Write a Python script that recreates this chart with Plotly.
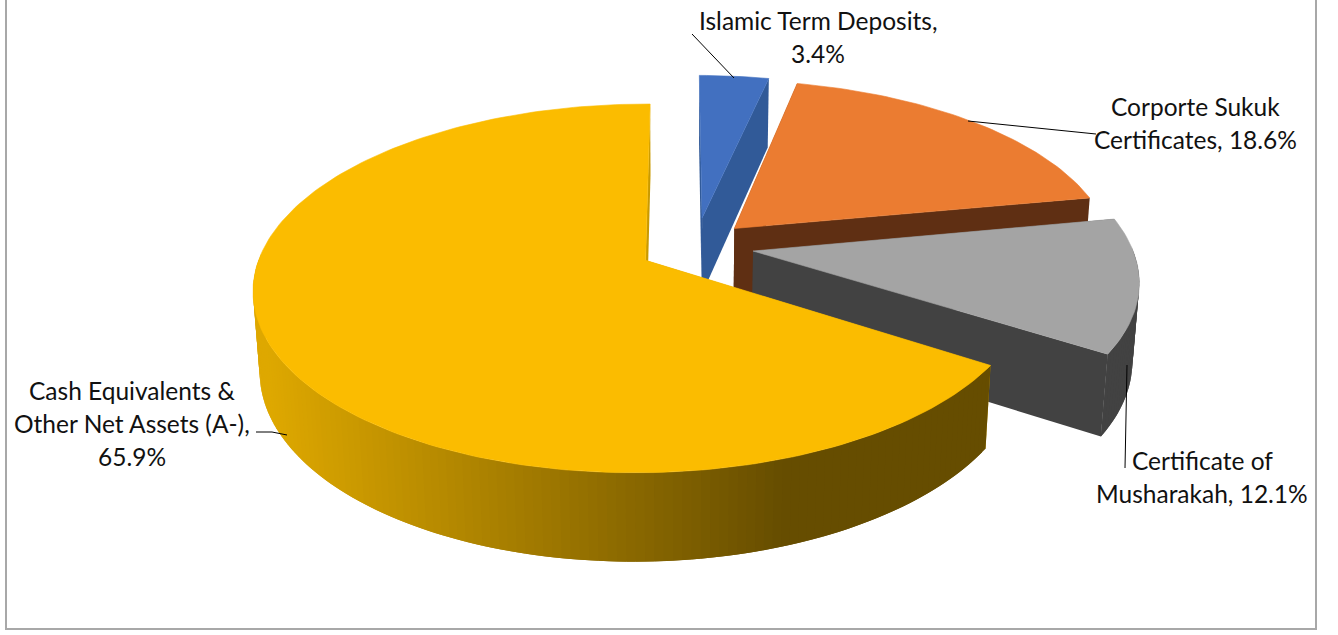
import math
import plotly.graph_objects as go

# Portfolio allocation, in percent, clockwise from twelve o'clock
categories = ["Islamic Term Deposits", "Corporte Sukuk Certificates",
              "Certificate of Musharakah", "Cash Equivalents & Other Net Assets (A-)"]
values = [3.4, 18.6, 12.1, 65.9]

top_colors = ["#4270c0", "#eb7c31", "#a4a4a4", "#fbbc00"]
side_colors = ["#315a98", "#5f2f13", "#424242", "#c99a00"]

# How far each slice is pulled out on the pie's plane, and its radii on that plane
explode_u = [0.059, 0.144, 0.190, -0.0885]
explode_v = [0.152, 0.090, -0.040, -0.092]
radius_u = [1.0, 1.0, 1.0, 0.985]
radius_v = [0.975, 1.0, 1.0, 1.0]

# Perspective camera for the tilted disc
CX, CY = 680.0, 244.0
SCALE_U, SCALE_V, DEPTH = 383.0, 175.0, 79.0
PERSP_V, PERSP_U, PERSP_Z = 0.15, 0.01, 0.015


def project(u, v, z):
    w = 1 + PERSP_V * v + PERSP_U * u + PERSP_Z * z
    return CX + SCALE_U * u / w, CY - (SCALE_V * v - DEPTH * z) / w


def polygon(points, color, stroke=0.0):
    xs = [p[0] for p in points] + [points[0][0]]
    ys = [p[1] for p in points] + [points[0][1]]
    return go.Scatter(x=xs, y=ys, mode="lines", fill="toself", fillcolor=color,
                      line=dict(color=color, width=stroke), hoverinfo="skip",
                      showlegend=False)


def mix(c0, c1, t):
    t = min(max(t, 0.0), 1.0)
    return "rgb(%d,%d,%d)" % tuple(round(a + (b - a) * t) for a, b in zip(c0, c1))


fig = go.Figure()

# Rim shading on the front of the large slice: lit on the left, flat shadow from RIM_X1 on
RIM_LIGHT, RIM_DARK = (222, 168, 0), (102, 77, 0)
RIM_X0, RIM_X1 = 265.0, 780.0

total = sum(values)
start = 0.0
for i, share in enumerate(values):
    sweep = share / total * 2 * math.pi
    end = start + sweep
    u0, v0 = explode_u[i], explode_v[i]
    ru, rv = radius_u[i], radius_v[i]
    steps = max(8, int(share * 3))
    angles = [start + sweep * n / steps for n in range(steps + 1)]
    rim = [(u0 + ru * math.sin(a), v0 + rv * math.cos(a)) for a in angles]
    apex = (u0, v0)

    # Straight cut faces
    for edge in (rim[0], rim[-1]):
        fig.add_trace(polygon([project(*apex, 0), project(*edge, 0),
                               project(*edge, 1), project(*apex, 1)], side_colors[i]))

    # Curved outer wall: only the part that faces the viewer, each quad overlapping
    # the next one so that no seams show
    for n in range(steps):
        if math.cos(angles[n]) > 0 and math.cos(angles[n + 1]) > 0:
            continue
        p, q = rim[n], rim[min(n + 2, steps)]
        quad = [project(*p, 0), project(*q, 0), project(*q, 1), project(*p, 1)]
        if i == 3:
            mid_x = (quad[0][0] + quad[1][0]) / 2
            color = mix(RIM_LIGHT, RIM_DARK, (mid_x - RIM_X0) / (RIM_X1 - RIM_X0))
        else:
            color = side_colors[i]
        fig.add_trace(polygon(quad, color))

    # Top face
    fig.add_trace(polygon([project(*apex, 0)] + [project(*p, 0) for p in rim],
                          top_colors[i], stroke=0.6))
    start = end

# Leader lines from slices to their labels
leaders = [
    ([692, 734], [34, 78]),
    ([968, 1096], [121, 134]),
    ([1127, 1125], [365, 468]),
    ([256, 272, 287], [432, 432, 435]),
]
for lx, ly in leaders:
    fig.add_trace(go.Scatter(x=lx, y=ly, mode="lines", line=dict(color="#000000", width=1),
                             hoverinfo="skip", showlegend=False))

# Data labels, line by line
pct = [f"{v:.1f}%" for v in values]
label_lines = [
    ("Islamic Term Deposits,", 818, 20), (pct[0], 818, 53),
    ("Corporte Sukuk", 1195, 106), (f"Certificates, {pct[1]}", 1195, 139),
    ("Certificate of", 1202, 460), (f"Musharakah, {pct[2]}", 1202, 493),
    ("Cash Equivalents &", 132, 390), ("Other Net Assets (A-),", 132, 423), (pct[3], 132, 456),
]
annotations = [dict(x=x, y=y, text=t, showarrow=False, xanchor="center", yanchor="middle",
                    font=dict(family="Lato, Carlito, sans-serif", size=24.5, color="#111111"))
               for t, x, y in label_lines]

fig.update_layout(
    width=1338, height=635, autosize=False,
    margin=dict(l=0, r=0, t=0, b=0),
    paper_bgcolor="#ffffff", plot_bgcolor="#ffffff",
    xaxis=dict(range=[0, 1338], visible=False, fixedrange=True),
    yaxis=dict(range=[635, 0], visible=False, fixedrange=True),
    annotations=annotations,
    shapes=[dict(type="rect", x0=6, x1=1316, y0=-6, y1=629,
                 line=dict(color="#a8a8a8", width=2), layer="below")],
    showlegend=False,
)
fig.write_html("out.html")
